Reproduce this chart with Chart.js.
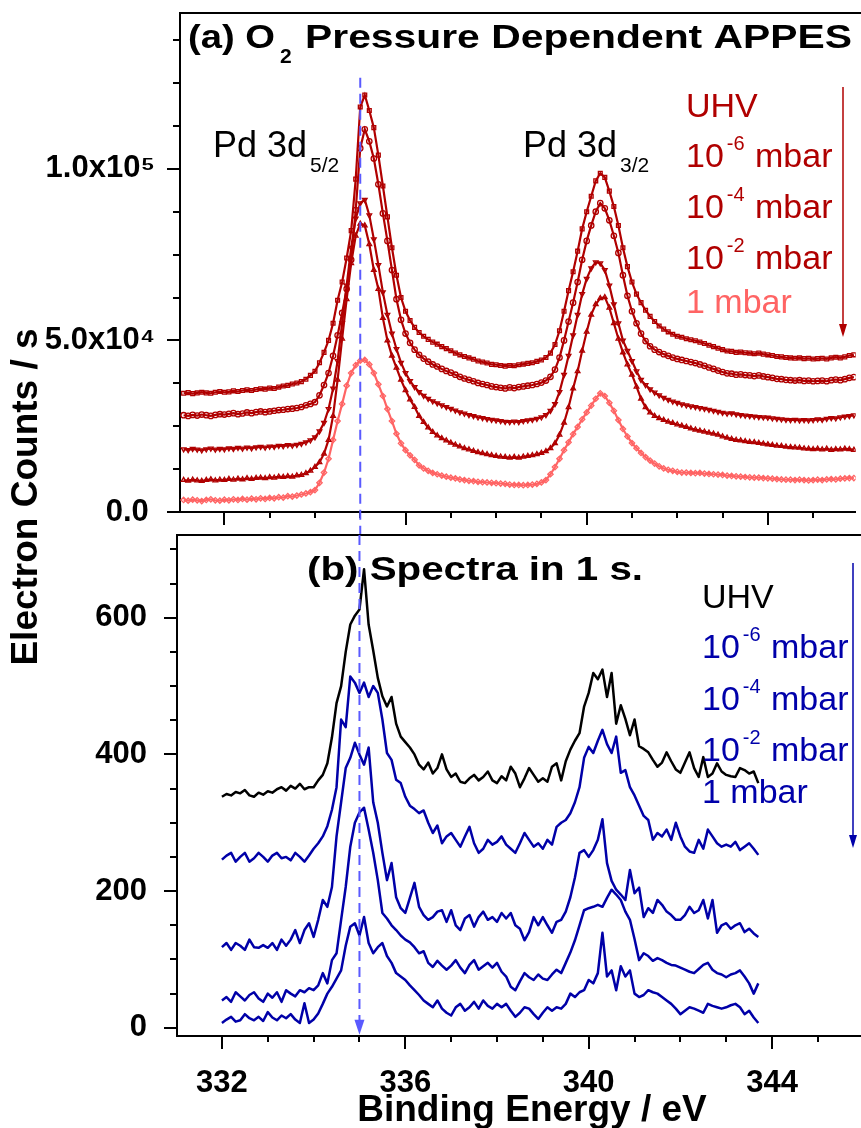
<!DOCTYPE html>
<html><head><meta charset="utf-8">
<script src="https://cdn.jsdelivr.net/npm/chart.js@4.4.1/dist/chart.umd.min.js"></script>
<style>
html,body{margin:0;padding:0;background:#fff;}
#wrap{position:relative;width:861px;height:1128px;overflow:hidden;background:#fff;}
#wrap canvas{position:absolute;left:0;top:0;}
</style></head><body>
<div id="wrap"><canvas id="topChart" width="861" height="1128"></canvas><canvas id="botChart" width="861" height="1128"></canvas></div>
<script>
// ---------------- DATA ----------------
const energyTop = [
331.1,331.2,331.3,331.4,331.5,331.6,331.7,331.8,331.9,
332.0,332.1,332.2,332.3,332.4,332.5,332.6,332.7,332.8,332.9,
333.0,333.1,333.2,333.3,333.4,333.5,333.6,333.7,333.8,333.9,
334.0,334.1,334.2,334.3,334.4,334.5,334.6,334.7,334.8,334.9,
335.0,335.1,335.2,335.3,335.4,335.5,335.6,335.7,335.8,335.9,
336.0,336.1,336.2,336.3,336.4,336.5,336.6,336.7,336.8,336.9,
337.0,337.1,337.2,337.3,337.4,337.5,337.6,337.7,337.8,337.9,
338.0,338.1,338.2,338.3,338.4,338.5,338.6,338.7,338.8,338.9,
339.0,339.1,339.2,339.3,339.4,339.5,339.6,339.7,339.8,339.9,
340.0,340.1,340.2,340.3,340.4,340.5,340.6,340.7,340.8,340.9,
341.0,341.1,341.2,341.3,341.4,341.5,341.6,341.7,341.8,341.9,
342.0,342.1,342.2,342.3,342.4,342.5,342.6,342.7,342.8,342.9,
343.0,343.1,343.2,343.3,343.4,343.5,343.6,343.7,343.8,343.9,
344.0,344.1,344.2,344.3,344.4,344.5,344.6,344.7,344.8,344.9,
345.0,345.1,345.2,345.3,345.4,345.5,345.6,345.7,345.8,345.9];

const uhvTop = [
34600,34800,34500,34700,34900,34700,34600,34900,35100,
34900,35000,35300,35100,35400,35600,35400,35700,35900,35800,
36100,36000,36400,36700,36900,37300,37600,38000,38700,39800,
41000,43500,46500,50000,55000,61700,67000,74000,82000,97000,
118000,121500,117000,112000,104000,95000,86000,77000,69000,62500,
58500,55800,53800,52300,51200,50300,49500,48900,48200,47600,
47000,46300,45800,45300,44900,44500,44000,43700,43400,43000,
42900,42700,42500,42700,42600,42900,43100,43300,43500,43900,
44300,45000,46300,48800,52800,58500,64500,70000,76000,82500,
87500,92000,96500,98700,97500,93500,89000,83500,77000,71500,
67000,63500,61000,58800,57000,55500,54200,53300,52500,51800,
51200,50900,50500,50200,49900,49500,49100,48600,48200,47700,
47300,46900,46800,46500,46600,46400,46300,46100,46300,46000,
45800,45600,45300,45200,45000,44900,44800,44900,44700,44800,
44600,44700,44800,44600,44900,45100,44900,45200,45600,45800];

const p6Top = [
28200,28000,28300,28100,28400,28200,28000,28300,28500,
28400,28600,28800,28500,28700,29000,28800,29100,29300,29100,
29300,29500,29700,29800,30000,30100,30300,30600,31100,31500,
32000,34000,37000,40500,45500,51500,58000,65000,73500,88000,
106000,111500,108000,103000,95500,87000,79000,70500,62000,56000,
52000,49300,47300,45800,44700,43800,43000,42400,41700,41100,
40600,40000,39400,38900,38500,38100,37600,37300,37000,36600,
36400,36200,36000,36300,36100,36400,36600,36800,37000,37300,
37700,38300,39400,41500,45000,50000,55500,61000,67000,73500,
79000,83500,87500,90000,88500,85000,80500,75500,69000,63000,
58500,55000,52000,49800,48300,47300,46600,46000,45500,45000,
44600,44300,44000,43700,43400,43000,42600,42100,41700,41200,
40800,40400,40300,40000,40100,39900,39800,39600,39800,39500,
39300,39100,38800,38700,38500,38400,38300,38400,38200,38300,
38100,38200,38300,38100,38400,38600,38400,38700,39100,39300];

const p4Top = [
18300,18100,18400,18200,18000,18300,18500,18200,18400,
18300,18600,18400,18700,18500,18800,18600,18900,19000,18800,
19100,19000,19300,19200,19500,19400,19600,19900,20300,20900,
21800,23500,26000,30000,36000,44000,55000,66000,77000,85500,
90000,91000,86500,79500,72000,64000,57500,52000,47500,43500,
40500,38200,36400,35000,33900,33000,32300,31700,31100,30600,
30100,29600,29100,28700,28300,28000,27600,27400,27100,26900,
26700,26500,26300,26200,26400,26200,26500,26700,26900,27200,
27600,28300,29500,31500,35000,40000,45500,51500,57500,63500,
68000,71000,72800,72500,70500,66000,60500,55000,50000,47000,
44000,41000,38500,37000,35800,34800,34000,33300,32700,32200,
31800,31400,31100,30800,30600,30300,30100,29800,29500,29200,
28900,28700,28800,28500,28300,28100,28000,27800,27700,27600,
27500,27300,27200,27000,26900,26800,26900,26700,26800,26700,
26800,27000,26900,27200,27400,27300,27600,27800,28000,28200];

const p2Top = [
9300,9100,9400,9200,9000,9300,9500,9200,9400,
9300,9600,9400,9700,9500,9800,9600,9900,10000,9800,
10100,10000,10300,10200,10400,10300,10600,10800,11300,12000,
13100,14500,17000,21000,28000,38500,50500,62000,72500,80500,
84000,83500,78000,70500,65000,56500,50000,45500,42000,38500,
35500,32800,30600,28000,26200,24600,23300,22300,21500,20800,
20200,19600,19100,18600,18200,17800,17400,17100,16800,16500,
16300,16100,16000,15800,16000,15800,16100,16300,16500,16800,
17200,17700,18600,20000,22500,26000,30500,36000,41000,47000,
52500,57500,60500,62300,62600,59500,55000,50500,46500,43000,
40000,36500,33000,30500,29000,28000,27300,26800,26300,25900,
25500,25100,24800,24300,24000,23700,23400,23100,22800,22500,
22000,21600,21300,21000,20800,20600,20400,20300,20100,19900,
19700,19500,19300,19200,19000,18900,18800,18700,18500,18400,
18300,18400,18200,18400,18100,18300,18200,18400,18300,18100];

const p0Top = [
3500,3300,3600,3400,3200,3500,3700,3400,3300,
3600,3400,3700,3500,3800,3600,3900,3700,4000,3800,
4100,4000,4300,4200,4600,4500,4800,5100,5400,5800,
6400,8500,11500,15500,21000,26500,31500,36800,40500,42800,
44100,44300,43000,40500,37200,33800,30000,26500,22800,20000,
18000,16500,15200,13600,12700,12000,11400,11000,10600,10300,
10000,9800,9500,9300,9100,9000,8800,8700,8600,8500,
8400,8300,8200,8000,7900,7900,7800,7900,8000,8200,
8600,9300,11000,13100,15500,18000,20300,22700,24800,27000,
29000,31000,33000,34600,33800,31800,29500,26800,24200,22000,
20100,18600,17200,16000,15000,14100,13300,12700,12300,12000,
11700,11500,11500,11400,11300,11400,11200,11100,11000,10900,
10800,10600,10500,10400,10300,10200,10100,10000,10000,9900,
9800,9700,9600,9500,9400,9400,9300,9400,9300,9200,
9300,9400,9300,9500,9600,9500,9700,9800,9900,9900];

const energyBottom = [
332.0,332.1,332.2,332.3,332.4,332.5,332.6,332.7,332.8,332.9,
333.0,333.1,333.2,333.3,333.4,333.5,333.6,333.7,333.8,333.9,
334.0,334.1,334.2,334.3,334.4,334.5,334.6,334.7,334.8,334.9,
335.0,335.1,335.2,335.3,335.4,335.5,335.6,335.7,335.8,335.9,
336.0,336.1,336.2,336.3,336.4,336.5,336.6,336.7,336.8,336.9,
337.0,337.1,337.2,337.3,337.4,337.5,337.6,337.7,337.8,337.9,
338.0,338.1,338.2,338.3,338.4,338.5,338.6,338.7,338.8,338.9,
339.0,339.1,339.2,339.3,339.4,339.5,339.6,339.7,339.8,339.9,
340.0,340.1,340.2,340.3,340.4,340.5,340.6,340.7,340.8,340.9,
341.0,341.1,341.2,341.3,341.4,341.5,341.6,341.7,341.8,341.9,
342.0,342.1,342.2,342.3,342.4,342.5,342.6,342.7,342.8,342.9,
343.0,343.1,343.2,343.3,343.4,343.5,343.6,343.7];

const uhvBottom = [
338,342,340,345,343,348,340,338,344,341,
346,344,349,352,347,354,350,357,349,352,
352,362,370,387,425,475,500,550,590,603,
612,671,590,552,512,485,470,484,445,426,
418,410,400,385,378,388,372,380,400,378,
367,372,360,358,365,370,362,367,375,362,
358,368,362,382,372,352,365,380,370,360,
365,360,382,387,362,390,407,420,431,470,
490,519,510,524,484,519,445,472,452,428,
451,412,408,403,392,382,388,403,390,378,
373,388,403,380,367,396,367,372,387,375,
370,368,367,380,377,372,375,358];

const p6Bottom = [
246,252,256,243,250,256,243,248,256,250,
243,252,256,248,250,245,256,250,243,252,
262,270,280,295,319,352,451,440,514,505,
490,505,484,500,490,451,402,392,363,358,
338,325,320,314,318,300,285,296,270,280,
285,275,265,280,294,270,256,262,275,268,
272,280,268,262,256,270,285,275,265,270,
262,275,268,294,300,304,314,330,352,395,
411,402,420,436,415,402,426,373,377,352,
340,325,310,304,275,285,280,290,275,300,
280,265,258,256,275,262,290,280,270,265,
268,265,272,260,265,270,262,253];

const p4Bottom = [
118,124,114,124,120,114,129,118,117,121,
117,124,114,129,120,129,143,124,143,153,
133,158,187,177,206,280,330,380,395,417,
400,385,410,330,300,256,216,241,191,175,
168,190,212,177,165,158,162,170,172,155,
172,150,143,160,165,148,162,170,158,162,
155,168,160,168,150,145,128,140,162,150,
162,150,139,155,158,170,191,220,256,260,
250,260,275,305,241,215,202,195,187,231,
197,205,162,175,168,187,180,170,165,158,
158,165,177,168,172,187,160,187,139,150,
153,145,150,153,140,145,138,133];

const p2Bottom = [
40,45,38,52,46,40,48,52,43,38,
50,44,52,38,55,50,46,55,52,58,
55,62,80,65,99,109,158,206,265,300,
315,322,290,256,216,168,160,150,143,135,
129,125,118,109,112,95,89,98,91,85,
91,99,88,80,92,99,85,90,95,88,
95,82,75,60,55,68,80,74,70,78,
72,70,78,85,80,95,110,128,150,172,
175,177,180,177,190,202,195,187,170,158,
130,99,109,105,98,102,99,95,92,91,
88,85,82,80,86,92,95,85,80,78,
74,78,80,84,75,65,50,65];

const p0Bottom = [
7,12,16,9,11,20,14,11,16,10,
23,15,11,18,14,20,12,7,36,7,
12,21,35,50,60,72,84,120,148,153,
135,162,124,109,118,124,105,95,80,75,
70,62,55,48,40,35,30,40,28,22,
18,30,35,25,30,38,28,40,32,28,
35,30,35,25,16,22,30,28,20,13,
22,30,25,30,28,35,50,45,52,55,
70,65,80,139,75,84,55,90,75,84,
50,45,48,55,52,50,45,40,35,28,
20,25,30,28,25,22,35,32,30,28,
30,33,35,30,20,25,15,7];

const seriesLabels = ['UHV', '10-6 mbar', '10-4 mbar', '10-2 mbar', '1 mbar'];
const legendExponents = ['-6', '-4', '-2'];
const xTickValues = [332, 336, 340, 344];
const topYTickValues = [0, 50000, 100000];
const topYTickLabels = ['0.0\u2009', '5.0x10\u2074', '1.0x10\u2075'];
const botYTickValues = [0, 200, 400, 600];
const peakLineEnergy = 335.0;

// ---------------- STYLE ----------------
const FONT = '"Liberation Sans", Arial, Helvetica, sans-serif';
const RED = '#B00000', PINK = '#FF6464', BLUE = '#0000A8', LBLUE = '#0000AA', DASH = '#5A5AFF';

function pts(xs, ys) { return xs.map((x, i) => ({ x: x, y: ys[i] })); }

function drawText(ctx, s, x, y, size, weight, color, width) {
  ctx.save();
  ctx.font = weight + ' ' + size + 'px ' + FONT;
  ctx.fillStyle = color; ctx.textAlign = 'left'; ctx.textBaseline = 'alphabetic';
  const w = ctx.measureText(s).width;
  const sx = width ? width / w : 1;
  ctx.translate(x, y); ctx.scale(sx, 1); ctx.fillText(s, 0, 0);
  ctx.restore();
  return x + w * sx;
}
function drawPressure(ctx, x, y, exp, color) {
  let cx = drawText(ctx, '10', x, y, 34, 'normal', color);
  cx = drawText(ctx, exp, cx + 3, y - 17, 20, 'normal', color);
  drawText(ctx, ' mbar', cx + 1, y, 34, 'normal', color);
}
function drawArrow(ctx, x, y1, y2, color) {
  ctx.save();
  ctx.strokeStyle = color; ctx.fillStyle = color; ctx.lineWidth = 1.5;
  ctx.beginPath(); ctx.moveTo(x, y1); ctx.lineTo(x, y2 - 10); ctx.stroke();
  ctx.beginPath(); ctx.moveTo(x - 4, y2 - 13); ctx.lineTo(x + 4, y2 - 13); ctx.lineTo(x, y2); ctx.closePath(); ctx.fill();
  ctx.restore();
}
function drawAxisTicks(chart, yStep, yMajor) {
  const ctx = chart.ctx, a = chart.chartArea, x = chart.scales.x, y = chart.scales.y;
  ctx.save(); ctx.strokeStyle = '#000'; ctx.lineWidth = 2; ctx.beginPath();
  for (let v = Math.ceil(x.min); v <= x.max; v++) {
    const px = Math.round(x.getPixelForValue(v));
    const len = (v % 4 === 0) ? 13 : 6;
    ctx.moveTo(px, a.bottom); ctx.lineTo(px, a.bottom + len);
  }
  for (let v = Math.ceil(y.min / yStep) * yStep; v <= y.max; v += yStep) {
    const py = Math.round(y.getPixelForValue(v));
    const len = (v % yMajor === 0) ? 13 : 7;
    ctx.moveTo(a.left, py); ctx.lineTo(a.left - len, py);
  }
  ctx.moveTo(a.left - 1, a.top); ctx.lineTo(861, a.top);
  ctx.stroke(); ctx.restore();
}
function noPad(s) { s.paddingTop = 0; s.paddingBottom = 0; s.paddingLeft = 0; s.paddingRight = 0; }
function setTicks(values) { return s => { s.ticks = values.map(v => ({ value: v })); }; }

const topPlugin = {
  id: 'topDeco',
  afterDraw(chart) {
    const ctx = chart.ctx, x = chart.scales.x, y = chart.scales.y;
    drawAxisTicks(chart, 12500, 50000);
    const px = x.getPixelForValue(peakLineEnergy);
    ctx.save(); ctx.strokeStyle = DASH; ctx.lineWidth = 2; ctx.setLineDash([10, 6]);
    ctx.beginPath(); ctx.moveTo(px, y.getPixelForValue(126500)); ctx.lineTo(px, 536); ctx.stroke(); ctx.restore();
    drawText(ctx, '(a) O', 188, 48, 33, 'bold', '#000', 87);
    drawText(ctx, '2', 280, 63, 21, 'bold', '#000');
    drawText(ctx, 'Pressure Dependent APPES', 305, 48, 33, 'bold', '#000', 547);
    let cx = drawText(ctx, 'Pd 3d', 213, 157, 36, 'normal', '#000');
    drawText(ctx, '5/2', cx + 3, 172, 21, 'normal', '#000');
    cx = drawText(ctx, 'Pd 3d', 523, 157, 36, 'normal', '#000');
    drawText(ctx, '3/2', cx + 3, 172, 21, 'normal', '#000');
    drawText(ctx, seriesLabels[0], 686, 117, 34, 'normal', RED);
    drawPressure(ctx, 686, 167, legendExponents[0], RED);
    drawPressure(ctx, 686, 218, legendExponents[1], RED);
    drawPressure(ctx, 686, 269, legendExponents[2], RED);
    drawText(ctx, seriesLabels[4], 686, 313, 34, 'normal', PINK);
    drawArrow(ctx, 843, 87, 337, RED);
    ctx.save(); ctx.translate(27, 497); ctx.rotate(-Math.PI / 2);
    ctx.font = 'bold 37px ' + FONT; ctx.fillStyle = '#000'; ctx.textAlign = 'center'; ctx.textBaseline = 'middle';
    ctx.fillText('Electron Counts / s', 0, 0); ctx.restore();
  }
};

const botPlugin = {
  id: 'botDeco',
  afterDraw(chart) {
    const ctx = chart.ctx, a = chart.chartArea, x = chart.scales.x, y = chart.scales.y;
    drawAxisTicks(chart, 50, 200);
    const px = x.getPixelForValue(peakLineEnergy);
    ctx.save(); ctx.strokeStyle = DASH; ctx.lineWidth = 2; ctx.setLineDash([10, 6]);
    const tip = y.getPixelForValue(-10);
    ctx.beginPath(); ctx.moveTo(px, a.top); ctx.lineTo(px, tip - 12); ctx.stroke();
    ctx.setLineDash([]); ctx.fillStyle = DASH;
    ctx.beginPath(); ctx.moveTo(px - 5, tip - 15); ctx.lineTo(px + 5, tip - 15); ctx.lineTo(px, tip); ctx.closePath(); ctx.fill();
    ctx.restore();
    drawText(ctx, '(b) Spectra in 1 s.', 307, 580, 33, 'bold', '#000', 336);
    drawText(ctx, seriesLabels[0], 702, 608, 34, 'normal', '#000');
    drawPressure(ctx, 702, 658, legendExponents[0], LBLUE);
    drawPressure(ctx, 702, 710, legendExponents[1], LBLUE);
    drawPressure(ctx, 702, 761, legendExponents[2], LBLUE);
    drawText(ctx, seriesLabels[4], 702, 803, 34, 'normal', LBLUE);
    drawArrow(ctx, 853, 563, 848, LBLUE);
    ctx.save(); ctx.font = 'bold 37px ' + FONT; ctx.fillStyle = '#000'; ctx.textAlign = 'center'; ctx.textBaseline = 'alphabetic';
    ctx.fillText('Binding Energy / eV', 532, 1121); ctx.restore();
  }
};

const common = {
  responsive: false, animation: false, devicePixelRatio: 1, events: [],
  plugins: { legend: { display: false }, tooltip: { enabled: false }, title: { display: false } }
};
const tickFont = { family: FONT, size: 31, weight: 'bold' };

const topDefs = [
  { d: uhvTop, c: RED, s: 'rect', r: 0 },
  { d: p6Top, c: RED, s: 'circle', r: 0 },
  { d: p4Top, c: RED, s: 'triangle', r: 180 },
  { d: p2Top, c: RED, s: 'triangle', r: 0 },
  { d: p0Top, c: PINK, s: 'rectRot', r: 0 }
];

new Chart(document.getElementById('topChart'), {
  type: 'line',
  data: { datasets: topDefs.map((t, i) => ({
    label: seriesLabels[i], data: pts(energyTop, t.d),
    borderColor: t.c, backgroundColor: t.c, borderWidth: 2.2, fill: false, tension: 0,
    pointStyle: t.s, pointRotation: t.r, pointRadius: 2.7, pointBorderWidth: 1.3,
    pointBackgroundColor: 'rgba(255,255,255,0)', pointBorderColor: t.c
  })) },
  options: Object.assign({}, common, {
    layout: { padding: { top: 13, bottom: 598, left: 0, right: 0 } },
    scales: {
      x: { type: 'linear', position: 'bottom', min: 331.02, max: 345.94,
        grid: { display: false }, border: { display: true, color: '#000', width: 2 },
        ticks: { display: false },
        afterBuildTicks: setTicks(xTickValues),
        afterFit: s => { s.height = 18; noPad(s); } },
      y: { type: 'linear', position: 'left', min: 0, max: 145400,
        grid: { display: false }, border: { display: true, color: '#000', width: 2 },
        ticks: { autoSkip: false, padding: 17, color: '#000', font: tickFont,
          callback: v => { const i = topYTickValues.indexOf(v); return i >= 0 ? topYTickLabels[i] : ''; } },
        afterBuildTicks: setTicks(topYTickValues),
        afterFit: s => { s.width = 180; noPad(s); } }
    }
  }),
  plugins: [topPlugin]
});

const botDefs = [
  { d: uhvBottom, c: '#000000' },
  { d: p6Bottom, c: BLUE },
  { d: p4Bottom, c: BLUE },
  { d: p2Bottom, c: BLUE },
  { d: p0Bottom, c: BLUE }
];

new Chart(document.getElementById('botChart'), {
  type: 'line',
  data: { datasets: botDefs.map((t, i) => ({
    label: seriesLabels[i], data: pts(energyBottom, t.d),
    borderColor: t.c, backgroundColor: t.c, borderWidth: 2.5, fill: false, tension: 0,
    pointRadius: 0, borderJoinStyle: 'round'
  })) },
  options: Object.assign({}, common, {
    layout: { padding: { top: 535, bottom: 0, left: 0, right: 0 } },
    scales: {
      x: { type: 'linear', position: 'bottom', min: 331.02, max: 345.94,
        grid: { display: false }, border: { display: true, color: '#000', width: 2 },
        ticks: { autoSkip: false, maxRotation: 0, padding: 21, color: '#000', font: tickFont,
          callback: v => String(v) },
        afterBuildTicks: setTicks(xTickValues),
        afterFit: s => { s.height = 92; noPad(s); } },
      y: { type: 'linear', position: 'left', min: -12, max: 721,
        grid: { display: false }, border: { display: true, color: '#000', width: 2 },
        ticks: { autoSkip: false, padding: 22, color: '#000', font: tickFont,
          callback: v => String(v) },
        afterBuildTicks: setTicks(botYTickValues),
        afterFit: s => { s.width = 177; noPad(s); } }
    }
  }),
  plugins: [botPlugin]
});
</script>
</body></html>
